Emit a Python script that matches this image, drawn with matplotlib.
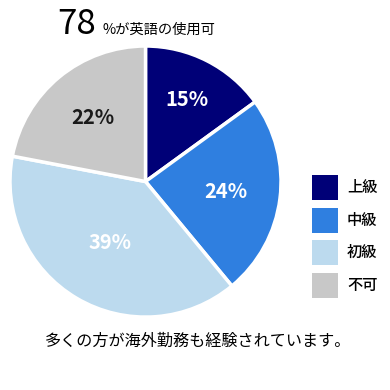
import numpy as np
import matplotlib.pyplot as plt
from matplotlib.patches import Rectangle

plt.rcParams["font.family"] = ["Noto Sans CJK JP", "DejaVu Sans"]

# 英語レベルの割合
levels = ["上級", "中級", "初級", "不可"]
shares = [15, 24, 39, 22]
colors = ["#000077", "#2f7fe0", "#bcdaee", "#c8c8c8"]
label_colors = ["white", "white", "white", "#1a1a1a"]
usable_pct = 78

# ラベルの中心からの距離 (半径比)
label_dist = [0.68, 0.60, 0.52, 0.61]

fig = plt.figure(figsize=(3.9, 3.9), dpi=100)
ax = fig.add_axes([0.0256, 0.187, 0.695, 0.695])

wedges, texts = ax.pie(
    shares,
    colors=colors,
    startangle=90,
    counterclock=False,
    wedgeprops=dict(edgecolor="white", linewidth=2.5),
)
for w, val, col, d in zip(wedges, shares, label_colors, label_dist):
    ang = np.deg2rad((w.theta1 + w.theta2) / 2)
    ax.text(d * np.cos(ang), d * np.sin(ang), f"{val}%", color=col,
            fontsize=14.5, fontweight="bold", ha="center", va="center")
ax.set_xlim(-1, 1)
ax.set_ylim(-1, 1)
ax.set_aspect("equal")

# タイトル
fig.text(0.148, 0.913, str(usable_pct), fontsize=25, ha="left", va="baseline")
fig.text(0.264, 0.913, "%が英語の使用可", fontsize=10.3, ha="left", va="baseline")

# 凡例 (手描き)
for i, (lab, col) in enumerate(zip(levels, colors)):
    top = 175 + i * 32.5
    fig.add_artist(Rectangle((312 / 390, 1 - (top + 25) / 390), 26 / 390, 25 / 390,
                             facecolor=col, edgecolor="none",
                             transform=fig.transFigure))
    fig.text(347 / 390, 1 - (top + 12.5) / 390, lab, fontsize=11,
             fontweight="medium", ha="left", va="center")

fig.text(0.508, 0.125, "多くの方が海外勤務も経験されています。", fontsize=11.6,
         ha="center", va="center")

fig.savefig("out.png", dpi=100)
